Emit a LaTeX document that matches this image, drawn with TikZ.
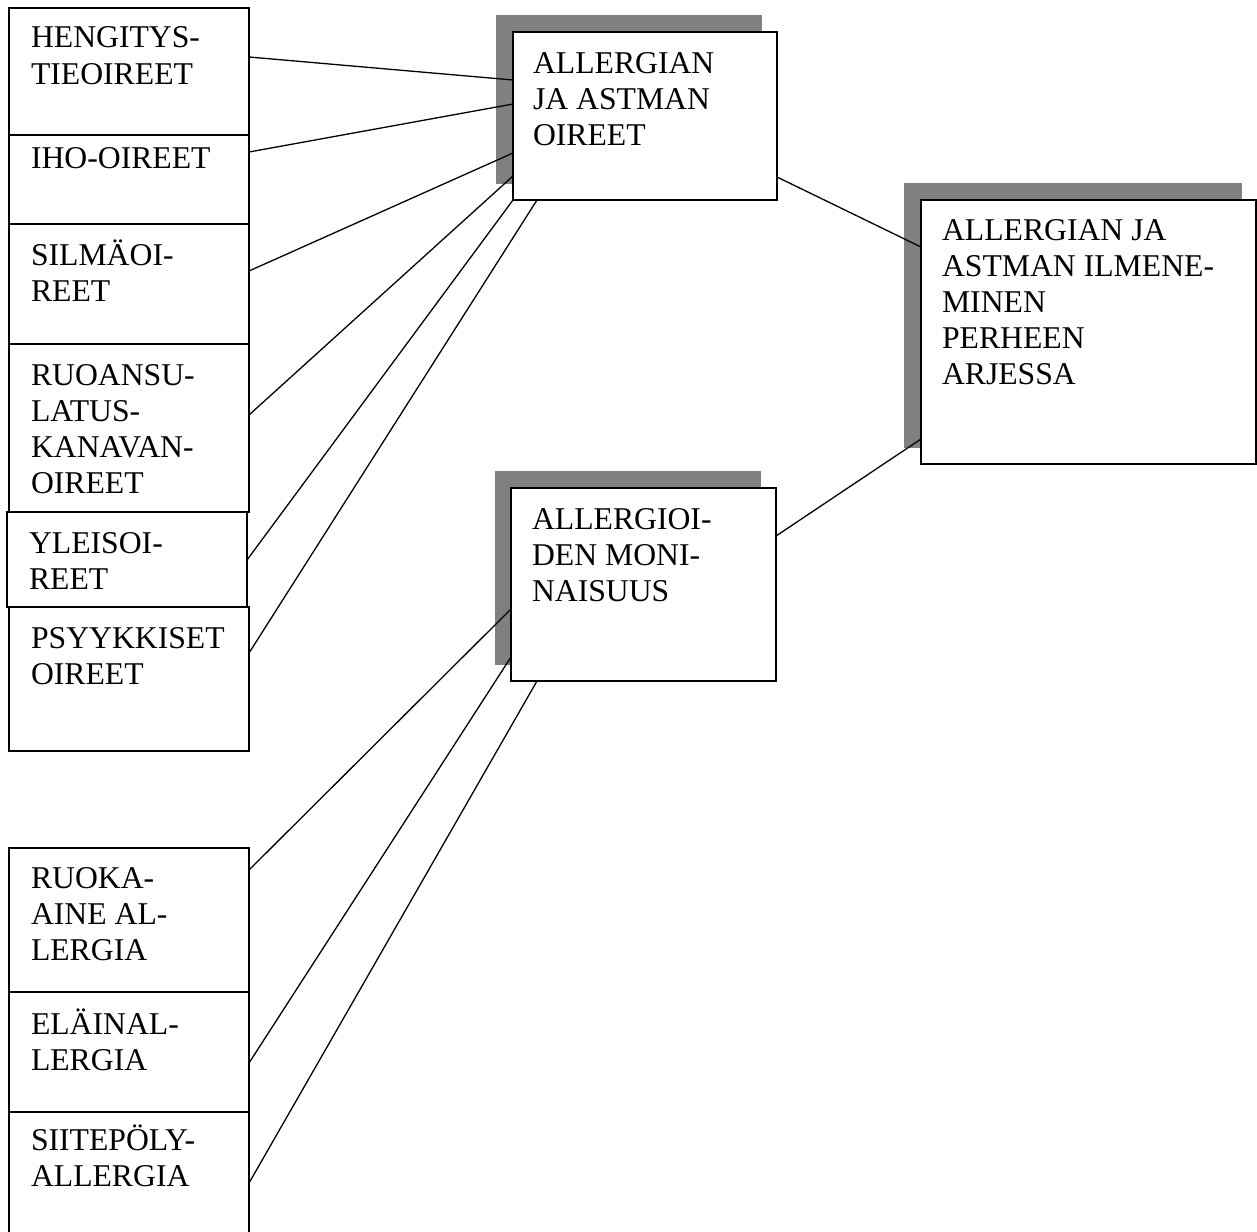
\documentclass[tikz,border=0pt]{standalone}
\usepackage{fontspec}
\setmainfont{Liberation Serif}
\definecolor{shadowgray}{RGB}{128,128,128}
\begin{document}
\begin{tikzpicture}[x=1pt,y=-1pt,
  box/.style={draw, line width=1.6pt, anchor=north west, inner sep=0pt, outer sep=0pt, fill=white},
  shade/.style={fill=shadowgray, draw=none, anchor=north west, inner sep=0pt, outer sep=0pt},
  txt/.style={anchor=north west, inner sep=0pt, outer sep=0pt, align=left, font=\fontsize{31.7}{36}\selectfont},
  link/.style={line width=1.3pt}]
\clip (0,0) rectangle (1257,1231);
% left column
\node[box, minimum width=240pt, minimum height=127pt] (h)  at (9,8) {};
\node[box, minimum width=240pt, minimum height=89pt]  (i)  at (9,135) {};
\node[box, minimum width=240pt, minimum height=120pt] (s)  at (9,224) {};
\node[box, minimum width=240pt, minimum height=168pt] (r)  at (9,344) {};
\node[box, minimum width=240pt, minimum height=95pt]  (y)  at (7,512) {};
\node[box, minimum width=240pt, minimum height=144pt] (p)  at (9,607) {};
\node[box, minimum width=240pt, minimum height=144pt] (rk) at (9,848) {};
\node[box, minimum width=240pt, minimum height=120pt] (el) at (9,992) {};
\node[box, minimum width=240pt, minimum height=126pt] (si) at (9,1112) {};
% shadowed boxes
\node[shade, minimum width=266pt, minimum height=169pt] (sa) at (496,15) {};
\node[box, minimum width=264pt, minimum height=168pt] (A) at (513,32) {};
\node[shade, minimum width=266pt, minimum height=194pt] (sb) at (495,471) {};
\node[box, minimum width=265pt, minimum height=193pt] (B) at (511,488) {};
\node[shade, minimum width=338pt, minimum height=265pt] (sc) at (904,183) {};
\node[box, minimum width=335pt, minimum height=264pt] (C) at (921,200) {};
% texts
\node[txt] (th)  at (31,22.8)   {\strut HENGITYS-\\TIEOIREET};
\node[txt] (ti)  at (31,142.8)  {\strut IHO-OIREET};
\node[txt] (ts)  at (31,239.8)  {\strut SILMÄOI-\\REET};
\node[txt] (tr)  at (31,359.8)  {\strut RUOANSU-\\LATUS-\\KANAVAN-\\OIREET};
\node[txt] (ty)  at (29,527.8)  {\strut YLEISOI-\\REET};
\node[txt] (tp)  at (31,622.8)  {\strut PSYYKKISET\\OIREET};
\node[txt] (trk) at (31,862.8)  {\strut RUOKA-\\AINE AL-\\LERGIA};
\node[txt] (tel) at (31,1008.8) {\strut ELÄINAL-\\LERGIA};
\node[txt] (tsi) at (31,1124.8) {\strut SIITEPÖLY-\\ALLERGIA};
\node[txt] (tA)  at (533,47.8)  {\strut ALLERGIAN\\JA ASTMAN\\OIREET};
\node[txt] (tB)  at (532,503.8) {\strut ALLERGIOI-\\DEN MONI-\\NAISUUS};
\node[txt] (tC)  at (942,214.8) {\strut ALLERGIAN JA\\ASTMAN ILMENE-\\MINEN\\PERHEEN\\ARJESSA};
% connectors
\draw[link] (h.east |- 0,57)    -- (A.west |- 0,80);
\draw[link] (i.east |- 0,152)   -- (A.west |- 0,104);
\draw[link] (s.east |- 0,271)   -- (A.west |- 0,153);
\draw[link] (r.east |- 0,415)   -- (A.west |- 0,176);
\draw[link] (y.east |- 0,560)   -- (A.south west);
\draw[link] (p.east |- 0,653)   -- (A.south west -| 537,0);
\draw[link] (rk.east |- 0,870)  -- (B.west |- 0,609);
\draw[link] (el.east |- 0,1063) -- (B.west |- 0,657);
\draw[link] (si.east |- 0,1183) -- (B.south west -| 537,0);
\draw[link] (A.east |- 0,177)   -- (C.west |- 0,247);
\draw[link] (B.east |- 0,536)   -- (C.west |- 0,439);
\end{tikzpicture}
\end{document}
